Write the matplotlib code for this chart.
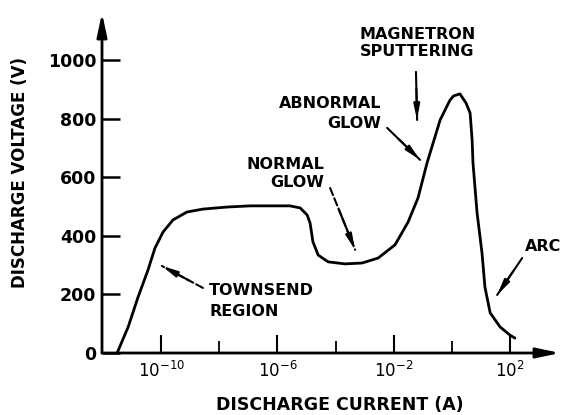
import matplotlib.pyplot as plt
import numpy as np

# curve: log10 of current (A) and voltage (V)
log_current = [-11.51, -11.13, -10.79, -10.45, -10.21, -9.93, -9.59, -9.11,
               -8.56, -7.73, -6.94, -5.57, -5.22, -4.98, -4.88, -4.78, -4.60,
               -4.26, -3.68, -3.09, -2.54, -1.96, -1.51, -1.17, -0.86, -0.41,
               -0.07, 0.05, 0.27, 0.48, 0.62, 0.69, 0.72, 0.86, 1.03, 1.13,
               1.31, 1.65, 1.99, 2.16]
voltage = [0, 89, 191, 283, 358, 413, 454, 481,
           491, 498, 502, 502, 495, 471, 444, 379, 334,
           311, 304, 307, 324, 369, 447, 529, 648, 795,
           863, 877, 884, 853, 819, 727, 648, 478, 341, 225,
           137, 89, 61, 51]

xtick_exp = [-10, -6, -2, 2]
xminor_exp = [-8, -4, 0]
yticks = [0, 200, 400, 600, 800, 1000]
ytick_labels = ['0', '200', '400', '600', '800', '1000']

fig = plt.figure(figsize=(5.62, 4.15), dpi=100)
ax = fig.add_axes([102 / 562, 62 / 415, 458 / 562, 340 / 415])
ax.set_xscale('log')
ax.set_xlim(10 ** -12.03, 10 ** 3.71)
ax.set_ylim(0, 1160)

ax.plot(10.0 ** np.array(log_current), voltage, color='black', lw=2.0,
        solid_capstyle='round', solid_joinstyle='round')

for s in ax.spines.values():
    s.set_visible(False)
# axes drawn as arrows
ax.annotate('', xy=(0, 1), xytext=(0, 0), xycoords='axes fraction',
            arrowprops=dict(arrowstyle='-|>,head_length=1.4,head_width=0.3',
                            lw=2, color='black', shrinkA=0, shrinkB=0))
ax.annotate('', xy=(1, 0), xytext=(0, 0), xycoords='axes fraction',
            arrowprops=dict(arrowstyle='-|>,head_length=1.4,head_width=0.3',
                            lw=2, color='black', shrinkA=0, shrinkB=0))

ax.set_xticks([10.0 ** e for e in xtick_exp])
ax.set_xticklabels(['$10^{%d}$' % e for e in xtick_exp])
ax.set_xticks([10.0 ** e for e in xminor_exp], minor=True)
ax.set_xticklabels([], minor=True)
ax.tick_params(axis='x', which='major', direction='in', length=13, width=1.5,
               labelsize=12, pad=6)
ax.tick_params(axis='x', which='minor', direction='in', length=9, width=1.3)
ax.set_yticks(yticks)
ax.set_yticklabels(ytick_labels)
ax.tick_params(axis='y', direction='in', length=13, width=1.8, labelsize=12.5,
               pad=4)
for lab in ax.get_yticklabels():
    lab.set_fontweight('bold')

fig.text(340 / 562, 1 - 405 / 415, 'DISCHARGE CURRENT (A)', ha='center',
         va='center', fontsize=12.5, fontweight='bold')
fig.text(20 / 562, 1 - 173 / 415, 'DISCHARGE VOLTAGE (V)', ha='center',
         va='center', rotation=90, fontsize=12, fontweight='bold')


def L(e):
    return 10.0 ** e


txt = dict(fontsize=11.5, fontweight='bold', color='black')
ax.text(L(-1.20), 1058, 'MAGNETRON\nSPUTTERING', ha='center', va='center',
        linespacing=1.2, **txt)
ax.text(L(-2.44), 817, 'ABNORMAL\nGLOW', ha='right', va='center',
        linespacing=1.4, **txt)
ax.text(L(-4.40), 613, 'NORMAL\nGLOW', ha='right', va='center',
        linespacing=1.3, **txt)
ax.text(L(-8.35), 179, 'TOWNSEND\nREGION', ha='left', va='center',
        linespacing=1.5, **txt)
ax.text(L(2.51), 362, 'ARC', ha='left', va='center', **txt)

head = '-|>,head_length=0.9,head_width=0.18'
arrows = [((-1.24, 959), (-1.20, 795), '-'),
          ((-2.23, 768), (-1.10, 659), '-'),
          ((-4.19, 563), (-3.33, 352), '--'),
          ((-8.56, 222), (-9.97, 297), '--'),
          ((2.41, 324), (1.55, 198), '-')]
for (x0, y0), (x1, y1), ls in arrows:
    ax.annotate('', xy=(L(x1), y1), xytext=(L(x0), y0),
                arrowprops=dict(arrowstyle='-', lw=1.5, ls=ls, color='black',
                                shrinkA=0, shrinkB=0))
    ax.annotate('', xy=(L(x1), y1), xytext=(L(x0 + 0.35 * (x1 - x0)),
                                            y0 + 0.35 * (y1 - y0)),
                arrowprops=dict(arrowstyle=head, lw=1.5, color='black',
                                shrinkA=0, shrinkB=0))

fig.savefig('out.png', dpi=100)
